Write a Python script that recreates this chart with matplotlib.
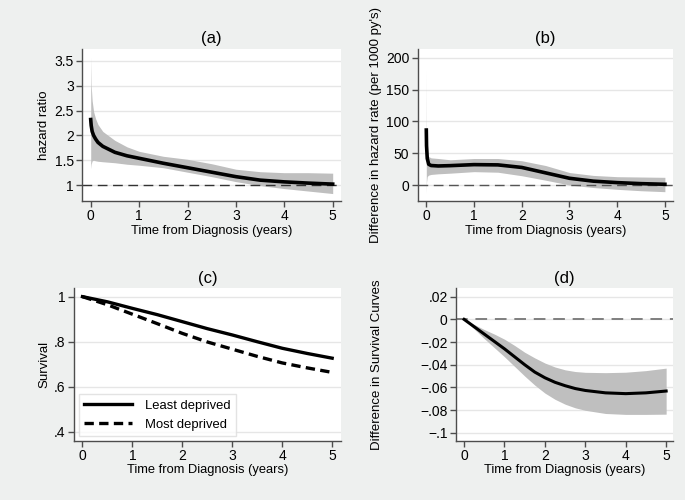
import matplotlib
matplotlib.use("Agg")
import matplotlib.pyplot as plt

plt.rcParams['font.family'] = ['Liberation Sans', 'DejaVu Sans']

# (a) hazard ratio with 95% CI
t_hr = [0, 0.01, 0.03, 0.06, 0.1, 0.15, 0.25, 0.5, 0.75, 1, 1.5, 2, 2.5, 3, 3.5, 4, 4.5, 5]
hr = [2.32, 2.2, 2.08, 2.0, 1.93, 1.86, 1.78, 1.66, 1.59, 1.54, 1.44, 1.35, 1.26, 1.17, 1.10, 1.065, 1.04, 1.02]
hr_hi = [3.58, 3.0, 2.7, 2.48, 2.34, 2.22, 2.08, 1.9, 1.77, 1.68, 1.58, 1.52, 1.43, 1.32, 1.27, 1.25, 1.25, 1.24]
hr_lo = [1.33, 1.42, 1.49, 1.5, 1.49, 1.48, 1.47, 1.45, 1.42, 1.40, 1.35, 1.26, 1.17, 1.07, 0.99, 0.93, 0.88, 0.83]

# (b) difference in hazard rate per 1000 person-years
t_hd = [0, 0.005, 0.02, 0.05, 0.1, 0.25, 0.5, 1, 1.5, 2, 2.5, 3, 3.5, 4, 4.5, 5]
hd = [86.6, 62, 42, 33, 31, 30.3, 30.8, 32.4, 32, 28, 19.5, 11, 6.5, 4.2, 2.6, 1.6]
hd_hi = [182, 70, 48, 45, 43, 42, 40, 42, 42, 38.5, 31, 20, 15.5, 13.5, 13, 12.5]
hd_lo = [-12.5, 5, 14, 16, 17, 18, 19, 21.4, 20.5, 15, 8, 0.5, -3.5, -6.3, -8.5, -10]

# (c) survival by deprivation group
t_s = [0, 0.5, 1, 1.5, 2, 2.5, 3, 3.5, 4, 4.5, 5]
surv_least = [1.0, 0.977, 0.948, 0.92, 0.889, 0.858, 0.830, 0.80, 0.771, 0.748, 0.727]
surv_most = [1.0, 0.964, 0.922, 0.88, 0.837, 0.799, 0.767, 0.735, 0.706, 0.684, 0.664]

# (d) difference in survival with 95% CI
t_sd = [0, 0.25, 0.5, 0.75, 1, 1.25, 1.5, 1.75, 2, 2.25, 2.5, 2.75, 3, 3.5, 4, 4.5, 5]
sd = [0, -0.0065, -0.013, -0.0195, -0.026, -0.033, -0.040, -0.0465, -0.0515, -0.0555, -0.0585, -0.061,
      -0.0627, -0.0648, -0.0655, -0.0648, -0.0632]
sd_hi = [0, -0.0045, -0.009, -0.013, -0.0175, -0.023, -0.029, -0.034, -0.0385, -0.042, -0.0445, -0.046,
         -0.0467, -0.047, -0.0466, -0.0452, -0.043]
sd_lo = [0, -0.0085, -0.017, -0.025, -0.033, -0.0415, -0.050, -0.058, -0.065, -0.0705, -0.0748, -0.078,
         -0.0802, -0.083, -0.0838, -0.0838, -0.0836]

xticks = [0, 1, 2, 3, 4, 5]
bg = '#eef0ef'
band = '#bfbfbf'
axcol = '#4d4d4d'

fig = plt.figure(figsize=(6.85, 5), dpi=100, facecolor=bg)
ax_a = fig.add_axes([0.1197, 0.598, 0.378, 0.304])
ax_b = fig.add_axes([0.6098, 0.598, 0.3727, 0.304])
ax_c = fig.add_axes([0.108, 0.1186, 0.3893, 0.3048])
ax_d = fig.add_axes([0.6657, 0.1186, 0.3168, 0.3048])


def style(ax, title, ylabel, yticks, ylabels, xlim, ylim):
    ax.set_facecolor('white')
    for s in ['top', 'right']:
        ax.spines[s].set_visible(False)
    for s in ['left', 'bottom']:
        ax.spines[s].set_color(axcol)
        ax.spines[s].set_linewidth(1.0)
    ax.set_xlim(*xlim)
    ax.set_ylim(*ylim)
    ax.set_xticks(xticks)
    ax.set_yticks(yticks)
    ax.set_yticklabels(ylabels)
    ax.tick_params(direction='out', length=4, width=1, color=axcol,
                   labelsize=10, pad=2)
    ax.yaxis.grid(True, color='#e6e6e6', linewidth=1)
    ax.set_axisbelow(True)
    ax.set_title(title, fontsize=12, pad=4)
    ax.set_xlabel('Time from Diagnosis (years)', fontsize=9.3, labelpad=1)
    ax.set_ylabel(ylabel, fontsize=9.5, labelpad=3)


# (a)
style(ax_a, '(a)', 'hazard ratio', [1, 1.5, 2, 2.5, 3, 3.5],
      ['1', '1.5', '2', '2.5', '3', '3.5'], (-0.18, 5.17), (0.68, 3.74))
ax_a.fill_between(t_hr, hr_lo, hr_hi, color=band, linewidth=0)
ax_a.axhline(1, color='#333333', linewidth=1, dashes=(7, 4))
ax_a.plot(t_hr, hr, color='black', linewidth=2.6)

# (b)
style(ax_b, '(b)', "Difference in hazard rate (per 1000 py's)", [0, 50, 100, 150, 200],
      ['0', '50', '100', '150', '200'], (-0.18, 5.17), (-24.6, 213.6))
ax_b.fill_between(t_hd, hd_lo, hd_hi, color=band, linewidth=0)
ax_b.axhline(0, color='#555555', linewidth=1, dashes=(7, 4))
ax_b.plot(t_hd, hd, color='black', linewidth=2.6)

# (c)
style(ax_c, '(c)', 'Survival', [0.4, 0.6, 0.8, 1.0],
      ['.4', '.6', '.8', '1'], (-0.17, 5.17), (0.361, 1.037))
ax_c.plot(t_s, surv_least, color='black', linewidth=2.4, label='Least deprived')
ax_c.plot(t_s, surv_most, color='black', linewidth=2.4, dashes=(2.8, 1.6),
          label='Most deprived')
leg = ax_c.legend(loc='lower left', fontsize=9.4, handlelength=3.7,
                  frameon=True, fancybox=False, borderaxespad=0.35,
                  labelspacing=0.55, handletextpad=1.0, borderpad=0.4)
leg.get_frame().set_edgecolor('#dddddd')
leg.get_frame().set_linewidth(1)

# (d)
style(ax_d, '(d)', 'Difference in Survival Curves',
      [0.02, 0, -0.02, -0.04, -0.06, -0.08, -0.1],
      ['.02', '0', '\u2212.02', '\u2212.04', '\u2212.06', '\u2212.08', '\u2212.1'],
      (-0.2, 5.17), (-0.107, 0.0274))
ax_d.fill_between(t_sd, sd_lo, sd_hi, color=band, linewidth=0)
ax_d.axhline(0, color='#7f7f7f', linewidth=1.4, dashes=(6, 4))
ax_d.plot(t_sd, sd, color='black', linewidth=2.2)
ax_d.yaxis.set_label_coords(-0.335, 0.5)

fig.savefig('out.png', dpi=100, facecolor=bg)
